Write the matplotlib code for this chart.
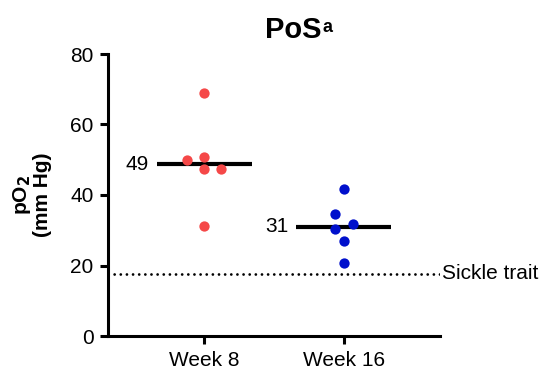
import matplotlib
matplotlib.use("Agg")
import matplotlib.pyplot as plt
import numpy as np

plt.rcParams["font.family"] = ["Liberation Sans", "DejaVu Sans"]

# data
groups = ["Week 8", "Week 16"]
week8 = [68.9, 49.9, 50.7, 47.5, 47.5, 31.3]
week16 = [41.6, 34.6, 31.8, 30.3, 26.9, 20.6]
# horizontal scatter offsets of the dots (column layout)
week8_offset = [0.0, -0.12, 0.0, 0.0, 0.12, 0.0]
week16_offset = [0.0, -0.063, 0.065, -0.063, 0.0, 0.0]
sickle_trait = 17.6
colors_ = ["#F54848", "#0010CC"]

fig = plt.figure(figsize=(5.43, 3.75), dpi=100)
ax = fig.add_axes([0.1989, 0.104, 0.6111, 0.752])

for i, (vals, offs, c) in enumerate(zip([week8, week16], [week8_offset, week16_offset], colors_), 1):
    xs = [i + o for o in offs]
    ax.scatter(xs, vals, s=55, color=c, zorder=3, linewidths=0)
    med = np.median(vals)
    ax.plot([i - 0.34, i + 0.34], [med, med], color="black", lw=3, solid_capstyle="butt", zorder=2)
    ax.text(i - 0.395, med, f"{round(med)}", ha="right", va="center", fontsize=15)

ax.axhline(sickle_trait, color="black", lw=2, linestyle=(0, (0.01, 2.2)),
           dash_capstyle="round", zorder=1)
ax.text(2.705, sickle_trait, "Sickle trait", ha="left", va="center", fontsize=15,
        clip_on=False)

ax.set_xlim(0.31, 2.69)
ax.set_ylim(0, 80)
ax.set_xticks([1, 2])
ax.set_xticklabels(groups, fontsize=15)
ax.set_yticks([0, 20, 40, 60, 80])
ax.tick_params(axis="both", width=2.2, length=5.5, labelsize=15)
ax.tick_params(axis="x", pad=5)
ax.tick_params(axis="y", pad=5)
for s in ["top", "right"]:
    ax.spines[s].set_visible(False)
for s in ["left", "bottom"]:
    ax.spines[s].set_linewidth(2.2)

ax.set_ylabel("pO$_\\mathbf{2}$\n(mm Hg)", fontsize=15, fontweight="bold", linespacing=1.0)
ax.yaxis.set_label_coords(-0.17, 0.5)

# title with superscript "a" placed right after the text box
title = fig.text(0.488, 0.92, "PoS", ha="left", va="center", fontsize=21, fontweight="bold")
ax.annotate("a", xy=(1, 1), xycoords=title, xytext=(0.5, -2.5), textcoords="offset points",
            ha="left", va="top", fontsize=13, fontweight="bold", annotation_clip=False)

fig.savefig("out.png", dpi=100)
